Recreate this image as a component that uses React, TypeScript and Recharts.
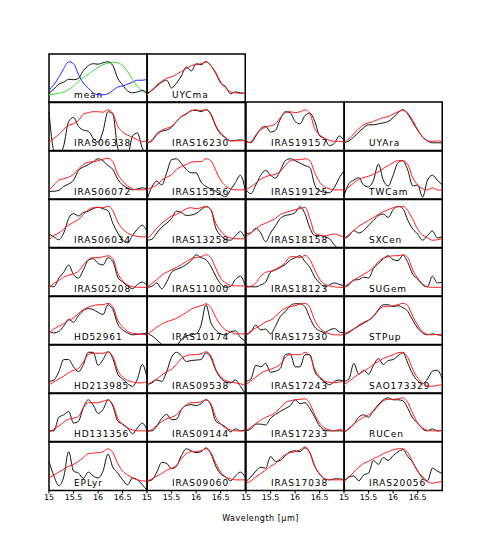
import React from 'react';
import { LineChart, Line, XAxis, YAxis, ReferenceArea } from 'recharts';

const WAVELENGTHS = [15.0, 15.1, 15.2, 15.3, 15.4, 15.5, 15.6, 15.7, 15.8, 15.9, 16.0, 16.1, 16.2, 16.3, 16.4, 16.5, 16.6, 16.7, 16.8, 16.9, 17.0];
const X_TICKS = [15, 15.5, 16, 16.5];

const MEAN_BLUE = [0.26, 0.37, 0.52, 0.7, 0.84, 0.8, 0.58, 0.4, 0.3, 0.2, 0.16, 0.16, 0.18, 0.25, 0.32, 0.34, 0.38, 0.42, 0.46, 0.46, 0.48];
const MEAN_GREEN = [0.16, 0.17, 0.19, 0.22, 0.27, 0.34, 0.44, 0.52, 0.58, 0.66, 0.73, 0.78, 0.81, 0.83, 0.82, 0.76, 0.64, 0.47, 0.34, 0.24, 0.18];
const MEAN_BLACK = [0.19, 0.28, 0.38, 0.42, 0.48, 0.47, 0.5, 0.66, 0.76, 0.8, 0.79, 0.82, 0.84, 0.76, 0.5, 0.36, 0.24, 0.2, 0.22, 0.25, 0.19];

const UYCma_obs = [0.19, 0.25, 0.34, 0.42, 0.46, 0.3, 0.4, 0.55, 0.73, 0.65, 0.8, 0.78, 0.84, 0.76, 0.6, 0.4, 0.33, 0.18, 0.22, 0.2, 0.19];
const UYCma_mod = [0.16, 0.26, 0.36, 0.44, 0.5, 0.53, 0.58, 0.64, 0.7, 0.76, 0.78, 0.8, 0.84, 0.76, 0.62, 0.42, 0.3, 0.22, 0.2, 0.19, 0.19];

const IRAS06338_obs = [0.8, 0.0, -0.1, 0.1, 0.6, 0.68, 0.5, 0.42, 0.4, 0.25, 0.17, 0.4, 0.8, 0.75, 0.05, -0.1, -0.1, 0.3, 0.36, 0.05, -0.1];
const IRAS06338_mod = [0.17, 0.25, 0.33, 0.44, 0.52, 0.55, 0.62, 0.75, 0.78, 0.8, 0.8, 0.79, 0.84, 0.76, 0.5, 0.38, 0.32, 0.27, 0.22, 0.18, 0.21];
const IRAS16230_obs = [0.16, 0.2, 0.33, 0.4, 0.42, 0.48, 0.6, 0.7, 0.75, 0.82, 0.83, 0.8, 0.84, 0.74, 0.5, 0.34, 0.26, 0.2, 0.21, 0.22, 0.2];
const IRAS16230_mod = [0.16, 0.22, 0.35, 0.42, 0.46, 0.5, 0.6, 0.7, 0.76, 0.82, 0.84, 0.82, 0.85, 0.76, 0.52, 0.36, 0.27, 0.2, 0.2, 0.2, 0.21];
const IRAS19157_obs = [0.19, 0.16, 0.3, 0.45, 0.5, 0.38, 0.42, 0.65, 0.8, 0.78, 0.6, 0.55, 0.72, 0.77, 0.6, 0.3, 0.25, 0.1, 0.15, 0.3, 0.2];
const IRAS19157_mod = [0.16, 0.18, 0.32, 0.43, 0.48, 0.51, 0.55, 0.68, 0.78, 0.8, 0.78, 0.8, 0.84, 0.76, 0.45, 0.32, 0.25, 0.21, 0.19, 0.19, 0.19];
const UYAra_obs = [0.16, 0.2, 0.28, 0.38, 0.47, 0.53, 0.53, 0.55, 0.57, 0.6, 0.68, 0.78, 0.84, 0.75, 0.58, 0.42, 0.28, 0.2, 0.16, 0.16, 0.16];
const UYAra_mod = [0.16, 0.24, 0.35, 0.45, 0.53, 0.57, 0.6, 0.64, 0.68, 0.7, 0.75, 0.8, 0.83, 0.77, 0.62, 0.43, 0.28, 0.2, 0.19, 0.2, 0.19];

const IRAS06072_obs = [0.17, 0.17, 0.19, 0.27, 0.32, 0.4, 0.6, 0.67, 0.72, 0.78, 0.84, 0.8, 0.7, 0.62, 0.42, 0.3, 0.24, 0.2, 0.22, 0.24, 0.22];
const IRAS06072_mod = [0.2, 0.3, 0.4, 0.43, 0.46, 0.52, 0.63, 0.72, 0.77, 0.78, 0.8, 0.83, 0.85, 0.78, 0.52, 0.38, 0.28, 0.22, 0.2, 0.2, 0.2];
const IRAS15556_obs = [0.0, 0.26, 0.38, 0.3, 0.55, 0.82, 0.84, 0.74, 0.62, 0.55, 0.55, 0.36, 0.27, 0.22, 0.17, 0.1, 0.06, 0.2, 0.35, 0.5, 0.2];
const IRAS15556_mod = [0.2, 0.25, 0.3, 0.4, 0.46, 0.51, 0.62, 0.68, 0.72, 0.77, 0.78, 0.78, 0.84, 0.8, 0.6, 0.4, 0.28, 0.22, 0.2, 0.2, 0.2];
const IRAS19125_obs = [0.2, 0.12, 0.3, 0.5, 0.6, 0.5, 0.44, 0.6, 0.8, 0.84, 0.8, 0.75, 0.7, 0.66, 0.3, 0.18, 0.15, 0.14, 0.25, 0.45, 0.6];
const IRAS19125_mod = [0.2, 0.26, 0.34, 0.42, 0.47, 0.5, 0.52, 0.58, 0.7, 0.8, 0.82, 0.82, 0.84, 0.8, 0.55, 0.36, 0.26, 0.22, 0.2, 0.2, 0.2];
const TWCam_obs = [0.07, 0.33, 0.4, 0.45, 0.3, 0.26, 0.4, 0.73, 0.4, 0.28, 0.5, 0.76, 0.8, 0.6, 0.28, 0.3, 0.05, 0.4, 0.5, 0.4, 0.3];
const TWCam_mod = [0.17, 0.26, 0.34, 0.42, 0.45, 0.48, 0.52, 0.57, 0.64, 0.7, 0.76, 0.8, 0.8, 0.72, 0.45, 0.3, 0.22, 0.2, 0.24, 0.2, 0.19];

const IRAS06034_obs = [0.28, 0.22, 0.16, 0.3, 0.6, 0.7, 0.65, 0.72, 0.75, 0.8, 0.83, 0.8, 0.76, 0.5, 0.3, 0.15, 0.1, 0.25, 0.38, 0.46, 0.32];
const IRAS06034_mod = [0.15, 0.25, 0.3, 0.38, 0.46, 0.52, 0.58, 0.68, 0.78, 0.82, 0.83, 0.82, 0.85, 0.76, 0.52, 0.38, 0.3, 0.25, 0.23, 0.22, 0.22];
const IRAS13258_obs = [0.15, 0.17, 0.3, 0.42, 0.5, 0.6, 0.75, 0.72, 0.66, 0.67, 0.7, 0.78, 0.84, 0.78, 0.4, 0.25, 0.17, 0.15, 0.24, 0.33, 0.18];
const IRAS13258_mod = [0.18, 0.28, 0.4, 0.5, 0.58, 0.65, 0.68, 0.74, 0.8, 0.82, 0.8, 0.82, 0.85, 0.78, 0.5, 0.34, 0.24, 0.2, 0.18, 0.18, 0.18];
const IRAS18158_obs = [0.29, 0.3, 0.4, 0.3, 0.12, 0.3, 0.45, 0.6, 0.66, 0.68, 0.72, 0.84, 0.7, 0.4, 0.25, 0.25, 0.22, 0.18, 0.05, -0.05, -0.1];
const IRAS18158_mod = [0.22, 0.3, 0.38, 0.46, 0.5, 0.55, 0.6, 0.68, 0.72, 0.75, 0.78, 0.8, 0.83, 0.6, 0.3, 0.26, 0.24, 0.26, 0.28, 0.25, 0.22];
const SXCen_obs = [0.18, 0.24, 0.35, 0.3, 0.35, 0.46, 0.56, 0.66, 0.69, 0.62, 0.78, 0.85, 0.8, 0.56, 0.38, 0.28, 0.15, 0.25, 0.34, 0.2, 0.22];
const SXCen_mod = [0.18, 0.27, 0.35, 0.44, 0.5, 0.56, 0.62, 0.68, 0.74, 0.78, 0.82, 0.84, 0.85, 0.76, 0.58, 0.38, 0.26, 0.2, 0.15, 0.16, 0.18];

const IRAS05208_obs = [0.22, 0.2, 0.38, 0.5, 0.65, 0.45, 0.38, 0.55, 0.75, 0.78, 0.68, 0.65, 0.8, 0.72, 0.4, 0.3, 0.22, 0.16, 0.25, 0.3, 0.22];
const IRAS05208_mod = [0.19, 0.27, 0.33, 0.4, 0.44, 0.47, 0.52, 0.65, 0.76, 0.8, 0.8, 0.82, 0.84, 0.78, 0.48, 0.32, 0.24, 0.2, 0.19, 0.19, 0.19];
const IRAS11000_obs = [0.19, 0.21, 0.28, 0.16, 0.3, 0.5, 0.56, 0.6, 0.66, 0.74, 0.86, 0.8, 0.76, 0.62, 0.42, 0.26, 0.19, 0.21, 0.35, 0.42, 0.22];
const IRAS11000_mod = [0.19, 0.27, 0.35, 0.44, 0.5, 0.55, 0.6, 0.66, 0.72, 0.78, 0.8, 0.82, 0.86, 0.8, 0.58, 0.38, 0.28, 0.23, 0.22, 0.22, 0.22];
const IRAS18123_obs = [0.22, 0.2, 0.2, 0.24, 0.3, 0.5, 0.55, 0.6, 0.66, 0.75, 0.8, 0.84, 0.72, 0.6, 0.4, 0.28, 0.2, 0.24, 0.28, 0.25, 0.22];
const IRAS18123_mod = [0.19, 0.21, 0.28, 0.42, 0.5, 0.52, 0.56, 0.62, 0.7, 0.82, 0.82, 0.8, 0.85, 0.76, 0.55, 0.36, 0.26, 0.22, 0.2, 0.19, 0.19];
const SUGem_obs = [0.19, 0.24, 0.34, 0.35, 0.4, 0.38, 0.58, 0.68, 0.78, 0.84, 0.76, 0.74, 0.85, 0.7, 0.46, 0.36, 0.24, 0.2, 0.42, 0.28, 0.3];
const SUGem_mod = [0.19, 0.27, 0.34, 0.4, 0.46, 0.52, 0.6, 0.72, 0.79, 0.82, 0.84, 0.84, 0.86, 0.8, 0.55, 0.38, 0.26, 0.2, 0.19, 0.19, 0.19];

const HD52961_obs = [0.27, 0.24, 0.27, 0.38, 0.52, 0.46, 0.6, 0.7, 0.74, 0.72, 0.66, 0.62, 0.82, 0.72, 0.42, 0.3, 0.24, 0.2, 0.21, 0.22, 0.24];
const HD52961_mod = [0.24, 0.32, 0.38, 0.43, 0.5, 0.55, 0.64, 0.72, 0.77, 0.8, 0.82, 0.82, 0.85, 0.78, 0.5, 0.36, 0.27, 0.23, 0.22, 0.21, 0.2];
const IRAS10174_obs = [0.24, 0.18, 0.1, 0.0, -0.05, -0.05, -0.02, 0.1, 0.18, 0.2, 0.22, 0.4, 0.82, 0.45, 0.3, 0.22, 0.2, 0.26, 0.28, 0.15, 0.07];
const IRAS10174_mod = [0.2, 0.28, 0.36, 0.42, 0.47, 0.5, 0.54, 0.6, 0.66, 0.73, 0.77, 0.8, 0.84, 0.76, 0.56, 0.4, 0.3, 0.26, 0.22, 0.22, 0.22];
const IRAS17530_obs = [0.2, 0.26, 0.4, 0.3, 0.32, 0.22, 0.38, 0.58, 0.68, 0.8, 0.84, 0.84, 0.78, 0.55, 0.36, 0.28, 0.25, 0.3, 0.33, 0.26, 0.24];
const IRAS17530_mod = [0.2, 0.28, 0.34, 0.4, 0.47, 0.5, 0.58, 0.68, 0.75, 0.78, 0.8, 0.83, 0.85, 0.76, 0.5, 0.34, 0.26, 0.22, 0.2, 0.2, 0.2];
const STPup_obs = [0.2, 0.25, 0.32, 0.38, 0.44, 0.5, 0.58, 0.72, 0.82, 0.82, 0.78, 0.8, 0.76, 0.68, 0.5, 0.34, 0.24, 0.2, 0.22, 0.2, 0.19];
const STPup_mod = [0.22, 0.27, 0.32, 0.4, 0.46, 0.5, 0.58, 0.7, 0.78, 0.78, 0.8, 0.82, 0.85, 0.8, 0.58, 0.4, 0.27, 0.21, 0.2, 0.21, 0.21];

const HD213985_obs = [0.25, 0.28, 0.45, 0.7, 0.7, 0.55, 0.45, 0.6, 0.85, 0.85, 0.58, 0.7, 0.86, 0.72, 0.4, 0.3, 0.2, 0.15, 0.3, 0.6, 0.3];
const HD213985_mod = [0.18, 0.24, 0.3, 0.36, 0.43, 0.48, 0.52, 0.66, 0.8, 0.83, 0.83, 0.83, 0.86, 0.76, 0.48, 0.34, 0.27, 0.24, 0.22, 0.22, 0.25];
const IRAS09538_obs = [0.18, 0.22, 0.28, 0.25, 0.45, 0.75, 0.85, 0.78, 0.66, 0.68, 0.69, 0.7, 0.84, 0.74, 0.48, 0.32, 0.24, 0.22, 0.28, 0.15, 0.0];
const IRAS09538_mod = [0.18, 0.24, 0.3, 0.38, 0.45, 0.5, 0.6, 0.72, 0.78, 0.8, 0.8, 0.82, 0.86, 0.78, 0.5, 0.35, 0.27, 0.24, 0.22, 0.2, 0.18];
const IRAS17243_obs = [0.25, 0.3, 0.58, 0.55, 0.62, 0.44, 0.46, 0.52, 0.8, 0.82, 0.55, 0.55, 0.8, 0.8, 0.45, 0.32, 0.24, 0.18, 0.25, 0.28, 0.25];
const IRAS17243_mod = [0.18, 0.26, 0.34, 0.42, 0.47, 0.5, 0.54, 0.6, 0.74, 0.8, 0.8, 0.8, 0.85, 0.78, 0.5, 0.35, 0.26, 0.23, 0.22, 0.24, 0.25];
const SAO173329_obs = [0.25, 0.3, 0.62, 0.4, 0.48, 0.4, 0.58, 0.72, 0.6, 0.68, 0.7, 0.78, 0.84, 0.62, 0.4, 0.26, 0.2, 0.3, 0.46, 0.48, 0.3];
const SAO173329_mod = [0.18, 0.25, 0.33, 0.4, 0.46, 0.52, 0.6, 0.66, 0.72, 0.76, 0.8, 0.84, 0.85, 0.74, 0.5, 0.32, 0.22, 0.16, 0.15, 0.17, 0.18];

const HD131356_obs = [0.22, 0.22, 0.5, 0.55, 0.62, 0.38, 0.42, 0.7, 0.86, 0.75, 0.58, 0.66, 0.86, 0.73, 0.42, 0.36, 0.28, 0.16, 0.28, 0.38, 0.22];
const HD131356_mod = [0.19, 0.26, 0.32, 0.4, 0.46, 0.48, 0.52, 0.7, 0.8, 0.8, 0.8, 0.83, 0.86, 0.76, 0.48, 0.35, 0.28, 0.24, 0.22, 0.22, 0.22];
const IRAS09144_obs = [0.22, 0.22, 0.32, 0.48, 0.56, 0.45, 0.46, 0.66, 0.74, 0.76, 0.74, 0.78, 0.86, 0.75, 0.42, 0.36, 0.3, 0.2, 0.26, 0.22, 0.24];
const IRAS09144_mod = [0.19, 0.25, 0.33, 0.41, 0.47, 0.5, 0.55, 0.66, 0.76, 0.8, 0.8, 0.82, 0.86, 0.78, 0.5, 0.36, 0.28, 0.24, 0.22, 0.22, 0.22];
const IRAS17233_obs = [0.22, 0.26, 0.36, 0.36, 0.34, 0.48, 0.56, 0.62, 0.68, 0.74, 0.86, 0.78, 0.8, 0.68, 0.5, 0.32, 0.24, 0.22, 0.22, 0.22, 0.22];
const IRAS17233_mod = [0.22, 0.3, 0.37, 0.44, 0.5, 0.54, 0.6, 0.7, 0.8, 0.84, 0.86, 0.87, 0.88, 0.78, 0.55, 0.38, 0.28, 0.24, 0.22, 0.25, 0.22];
const RUCen_obs = [0.19, 0.26, 0.36, 0.5, 0.55, 0.5, 0.64, 0.76, 0.86, 0.9, 0.86, 0.86, 0.84, 0.68, 0.48, 0.38, 0.26, 0.22, 0.26, 0.22, 0.23];
const RUCen_mod = [0.19, 0.27, 0.36, 0.44, 0.5, 0.55, 0.62, 0.74, 0.84, 0.87, 0.87, 0.88, 0.9, 0.8, 0.58, 0.38, 0.28, 0.23, 0.22, 0.22, 0.22];

const EPLyr_obs = [0.6, 0.3, 0.1, 0.28, 0.8, 0.4, 0.36, 0.25, 0.38, 0.3, 0.26, 0.4, 0.75, 0.48, 0.36, 0.22, 0.12, 0.26, 0.22, 0.12, 0.0];
const EPLyr_mod = [0.26, 0.32, 0.38, 0.44, 0.5, 0.54, 0.6, 0.68, 0.76, 0.77, 0.78, 0.8, 0.86, 0.78, 0.56, 0.4, 0.32, 0.26, 0.22, 0.2, 0.19];
const IRAS09060_obs = [0.19, 0.22, 0.38, 0.58, 0.56, 0.45, 0.5, 0.72, 0.86, 0.82, 0.78, 0.8, 0.88, 0.76, 0.5, 0.34, 0.28, 0.2, 0.3, 0.38, 0.28];
const IRAS09060_mod = [0.19, 0.24, 0.3, 0.35, 0.42, 0.46, 0.52, 0.66, 0.76, 0.8, 0.8, 0.82, 0.86, 0.78, 0.56, 0.38, 0.28, 0.24, 0.22, 0.22, 0.22];
const IRAS17038_obs = [0.19, 0.28, 0.4, 0.48, 0.46, 0.7, 0.6, 0.62, 0.72, 0.8, 0.82, 0.8, 0.88, 0.78, 0.5, 0.34, 0.24, 0.22, 0.24, 0.24, 0.22];
const IRAS17038_mod = [0.15, 0.2, 0.28, 0.35, 0.42, 0.5, 0.56, 0.66, 0.74, 0.78, 0.8, 0.84, 0.9, 0.78, 0.5, 0.34, 0.24, 0.22, 0.22, 0.22, 0.22];
const IRAS20056_obs = [0.19, 0.28, 0.3, 0.2, 0.32, 0.36, 0.62, 0.54, 0.68, 0.62, 0.72, 0.8, 0.84, 0.7, 0.58, 0.4, 0.28, 0.2, 0.46, 0.4, 0.35];
const IRAS20056_mod = [0.19, 0.27, 0.38, 0.48, 0.56, 0.6, 0.66, 0.7, 0.76, 0.8, 0.84, 0.86, 0.86, 0.78, 0.58, 0.4, 0.25, 0.18, 0.15, 0.17, 0.19];

const STARS: Record<string, [number[], number[]]> = {
  UYCma: [UYCma_obs, UYCma_mod],
  IRAS06338: [IRAS06338_obs, IRAS06338_mod],
  IRAS16230: [IRAS16230_obs, IRAS16230_mod],
  IRAS19157: [IRAS19157_obs, IRAS19157_mod],
  UYAra: [UYAra_obs, UYAra_mod],
  IRAS06072: [IRAS06072_obs, IRAS06072_mod],
  IRAS15556: [IRAS15556_obs, IRAS15556_mod],
  IRAS19125: [IRAS19125_obs, IRAS19125_mod],
  TWCam: [TWCam_obs, TWCam_mod],
  IRAS06034: [IRAS06034_obs, IRAS06034_mod],
  IRAS13258: [IRAS13258_obs, IRAS13258_mod],
  IRAS18158: [IRAS18158_obs, IRAS18158_mod],
  SXCen: [SXCen_obs, SXCen_mod],
  IRAS05208: [IRAS05208_obs, IRAS05208_mod],
  IRAS11000: [IRAS11000_obs, IRAS11000_mod],
  IRAS18123: [IRAS18123_obs, IRAS18123_mod],
  SUGem: [SUGem_obs, SUGem_mod],
  HD52961: [HD52961_obs, HD52961_mod],
  IRAS10174: [IRAS10174_obs, IRAS10174_mod],
  IRAS17530: [IRAS17530_obs, IRAS17530_mod],
  STPup: [STPup_obs, STPup_mod],
  HD213985: [HD213985_obs, HD213985_mod],
  IRAS09538: [IRAS09538_obs, IRAS09538_mod],
  IRAS17243: [IRAS17243_obs, IRAS17243_mod],
  SAO173329: [SAO173329_obs, SAO173329_mod],
  HD131356: [HD131356_obs, HD131356_mod],
  IRAS09144: [IRAS09144_obs, IRAS09144_mod],
  IRAS17233: [IRAS17233_obs, IRAS17233_mod],
  RUCen: [RUCen_obs, RUCen_mod],
  EPLyr: [EPLyr_obs, EPLyr_mod],
  IRAS09060: [IRAS09060_obs, IRAS09060_mod],
  IRAS17038: [IRAS17038_obs, IRAS17038_mod],
  IRAS20056: [IRAS20056_obs, IRAS20056_mod],
};

const GRID: string[][] = [
  ['mean', 'UYCma'],
  ['IRAS06338', 'IRAS16230', 'IRAS19157', 'UYAra'],
  ['IRAS06072', 'IRAS15556', 'IRAS19125', 'TWCam'],
  ['IRAS06034', 'IRAS13258', 'IRAS18158', 'SXCen'],
  ['IRAS05208', 'IRAS11000', 'IRAS18123', 'SUGem'],
  ['HD52961', 'IRAS10174', 'IRAS17530', 'STPup'],
  ['HD213985', 'IRAS09538', 'IRAS17243', 'SAO173329'],
  ['HD131356', 'IRAS09144', 'IRAS17233', 'RUCen'],
  ['EPLyr', 'IRAS09060', 'IRAS17038', 'IRAS20056'],
];

const LEFT0 = 49;
const TOP0 = 53.5;
const PW = 98.25;
const PH = 48.55;
const PAD = 8;
const FONT = "'DejaVu Sans', sans-serif";

const NameLabel = (props: any) => {
  const vb = props.viewBox || { x: 0, y: 0, width: 0, height: 0 };
  return (
    <text x={vb.x + 25} y={vb.y + vb.height - 5} fontSize={9} fontFamily={FONT} letterSpacing={0.9} fill="#000">
      {props.name}
    </text>
  );
};

function Panel({ name, row, col, bottom }: { name: string; row: number; col: number; bottom: boolean }) {
  const left = LEFT0 + col * PW;
  const top = TOP0 + row * PH;
  const axisH = bottom ? 16 : 5;
  const isMean = name === 'mean';
  const data = WAVELENGTHS.map((w, i) =>
    isMean
      ? { w, blue: MEAN_BLUE[i], green: MEAN_GREEN[i], obs: MEAN_BLACK[i] }
      : { w, obs: STARS[name][0][i], mod: STARS[name][1][i] }
  );
  return (
    <div style={{ position: 'absolute', left: left - PAD, top: top - 2 }}>
      <LineChart width={PW + 2 * PAD} height={PH + 2 + axisH} data={data} margin={{ top: 2, right: PAD, left: PAD, bottom: 0 }}>
        <XAxis
          dataKey="w"
          type="number"
          domain={[15, 17]}
          ticks={X_TICKS}
          interval={0}
          height={axisH}
          axisLine={false}
          tickLine={{ stroke: '#000' }}
          tickSize={3}
          tickMargin={1}
          tick={bottom ? { fontSize: 8, fill: '#000', fontFamily: FONT } : false}
        />
        <YAxis hide domain={[0, 1]} allowDataOverflow />
        {isMean && <Line type="monotone" dataKey="blue" stroke="#2020ff" strokeWidth={1} dot={false} isAnimationActive={false} />}
        {isMean && <Line type="monotone" dataKey="green" stroke="#30e030" strokeWidth={1} dot={false} isAnimationActive={false} />}
        <Line type="monotone" dataKey="obs" stroke="#111" strokeWidth={1} dot={false} isAnimationActive={false} />
        {!isMean && <Line type="monotone" dataKey="mod" stroke="#ff1a1a" strokeWidth={1} dot={false} isAnimationActive={false} />}
        <ReferenceArea
          x1={15}
          x2={17}
          y1={0}
          y2={1}
          fill="none"
          fillOpacity={0}
          stroke="#000"
          strokeWidth={1.5}
          ifOverflow="visible"
          label={<NameLabel name={name} />}
        />
      </LineChart>
    </div>
  );
}

export default function App() {
  return (
    <div style={{ position: 'absolute', left: 0, top: 0, width: 491, height: 545, background: '#fff' }}>
      {GRID.map((names, r) =>
        names.map((name, c) => (
          <Panel key={name} name={name} row={r} col={c} bottom={r === GRID.length - 1} />
        ))
      )}
      <div
        style={{
          position: 'absolute',
          left: 160,
          width: 201,
          top: 514,
          textAlign: 'center',
          fontSize: 8,
          lineHeight: '10px',
          fontFamily: FONT,
          letterSpacing: 0.5,
          color: '#000',
        }}
      >
        Wavelength [μm]
      </div>
    </div>
  );
}
